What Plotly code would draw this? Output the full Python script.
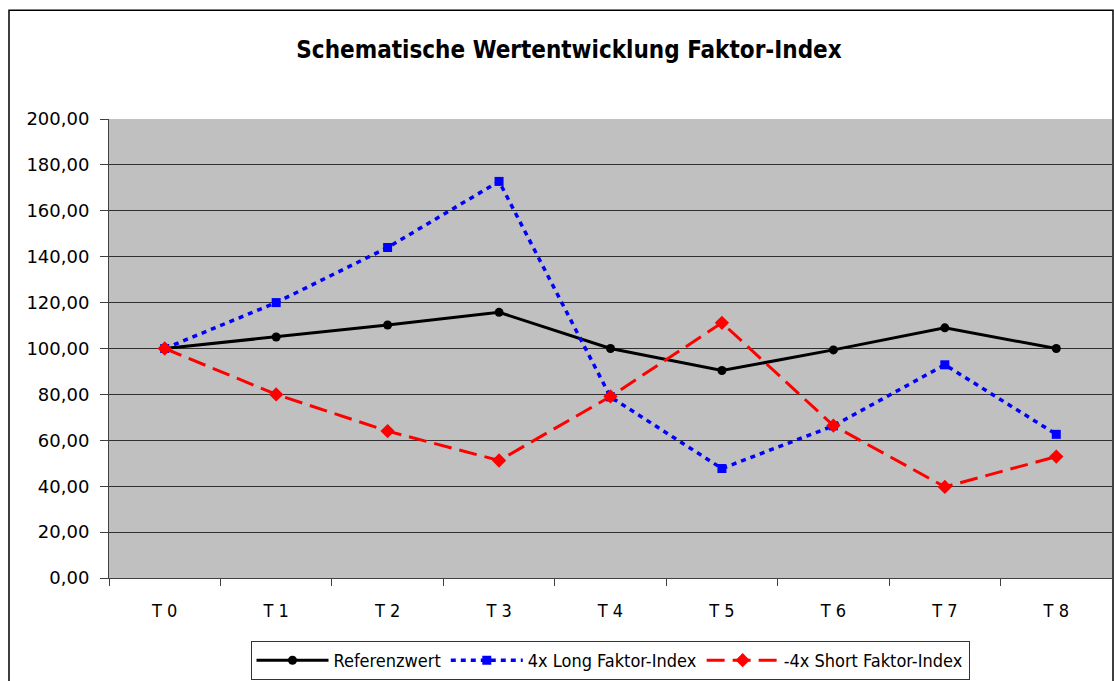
import plotly.graph_objects as go

categories = ["T 0", "T 1", "T 2", "T 3", "T 4", "T 5", "T 6", "T 7", "T 8"]
referenz = [100, 105, 110.25, 115.76, 100, 90.4, 99.4, 109.0, 100]
long4x = [100, 120, 144, 172.8, 78.9, 47.7, 66.3, 92.9, 62.6]
short4x = [100, 80, 64, 51.2, 79.1, 111.2, 66.4, 39.7, 52.9]

COND = "DejaVu Sans Condensed, DejaVu Sans"

fig = go.Figure()
fig.add_trace(go.Scatter(x=categories, y=referenz, name="Referenzwert", mode="lines+markers",
                         line=dict(color="black", width=3),
                         marker=dict(symbol="circle", size=9, color="black")))
fig.add_trace(go.Scatter(x=categories, y=long4x, name="4x Long Faktor-Index", mode="lines+markers",
                         line=dict(color="#0000FF", width=3.5, dash="5px,5px"),
                         marker=dict(symbol="square", size=9, color="#0000FF")))
fig.add_trace(go.Scatter(x=categories, y=short4x, name="-4x Short Faktor-Index", mode="lines+markers",
                         line=dict(color="#FF0000", width=3, dash="18px,8px"),
                         marker=dict(symbol="diamond", size=11, color="#FF0000")))

W, H = 1114, 681
L, R, T, B = 109, 2, 119, 102
PW, PH = W - L - R, H - T - B
fig.update_layout(
    width=W, height=H,
    margin=dict(l=L, r=R, t=T, b=B),
    paper_bgcolor="white", plot_bgcolor="#C0C0C0",
    separators=",.",
    title=dict(text="<b>Schematische Wertentwicklung Faktor-Index</b>",
               x=569 / W, xanchor="center", y=1 - 50 / H, yanchor="middle",
               font=dict(family=COND, size=24, color="black")),
    font=dict(family="DejaVu Sans", size=15, color="black"),
    showlegend=True,
    legend=dict(orientation="h", x=(610 - L) / PW, xanchor="center",
                y=(H - B - 680) / PH, yanchor="bottom",
                bordercolor="#333333", borderwidth=1, bgcolor="white",
                font=dict(family=COND, size=18, color="black"),
                itemwidth=72, tracegroupgap=0),
    shapes=[dict(type="rect", xref="paper", yref="paper",
                 x0=(9 - L) / PW, x1=(1113 - L) / PW,
                 y0=(H - B - 700) / PH, y1=(H - B - 10) / PH,
                 line=dict(color="black", width=1.5), fillcolor="rgba(0,0,0,0)", layer="below")],
)
fig.update_xaxes(type="category", range=[-0.5, 8.5], showline=True, linecolor="#404040", linewidth=1,
                 ticks="outside", ticklen=7, tickcolor="#404040", tickson="boundaries",
                 showgrid=False, tickfont=dict(family=COND, size=18),
                 ticklabelstandoff=16)
fig.update_yaxes(range=[0, 200], dtick=20, tickformat=".2f", showline=True, linecolor="#404040",
                 linewidth=1, ticks="outside", ticklen=8, tickcolor="#404040",
                 showgrid=True, gridcolor="#303030", gridwidth=1, zeroline=False,
                 tickfont=dict(family="DejaVu Sans", size=18), ticklabelstandoff=7)

fig.write_html("out.html", config={"displayModeBar": False},
               post_script="document.body.style.margin='0';document.body.style.overflow='hidden';")
